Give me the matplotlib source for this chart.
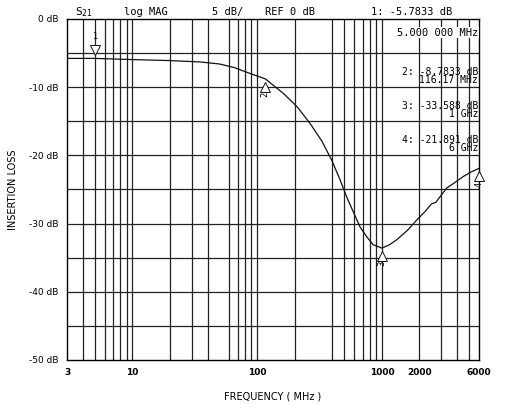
import numpy as np
import matplotlib
matplotlib.use("Agg")
import matplotlib.pyplot as plt

plt.rcParams.update({"font.family": "DejaVu Sans", "font.size": 6.5})

# trace
freq_mhz = [3, 5, 10, 20, 35, 50, 65, 88, 116.17, 162, 210, 265, 330, 396, 460, 522,
            600, 668, 760, 851, 1000, 1150, 1310, 1600, 1897, 2200, 2500, 2700,
            3300, 3900, 4490, 5230, 6000]
s21_db = [-5.78, -5.78, -5.95, -6.1, -6.3, -6.6, -7.1, -8.0, -8.78, -10.9, -12.9,
          -15.3, -17.9, -20.7, -23.5, -26.1, -28.6, -30.5, -32.0, -33.1, -33.6,
          -33.1, -32.4, -31.0, -29.5, -28.3, -27.1, -26.9, -24.8, -23.9, -23.1,
          -22.4, -21.9]

grid_v = [4, 5, 6, 7, 8, 9, 10, 20, 30, 40, 60, 70, 80, 90, 100,
          200, 400, 500, 600, 700, 800, 900, 1000, 2000, 3000, 4000, 5000]
xticks = [3, 10, 100, 1000, 2000, 6000]
yticks = [0, -10, -20, -30, -40, -50]

markers = [(1, 5.0, -5.7833), (2, 116.17, -8.7833), (3, 1000, -33.588), (4, 6000, -21.891)]
readouts = ["2: -8.7833 dB\n116.17 MHz", "3: -33.588 dB\n1 GHz", "4: -21.891 dB\n6 GHz"]

fig = plt.figure(figsize=(5.05, 4.04), dpi=100)
ax = fig.add_axes([0.133, 0.109, 0.8155, 0.844])
ax.set_xscale("log")
ax.set_xlim(3, 6000); ax.set_ylim(-50, 0)

for g in grid_v:
    ax.axvline(g, color="#222", lw=0.9, zorder=1)
for h in range(-45, 0, 5):
    ax.axhline(h, color="#222", lw=0.9, zorder=1)
ax.plot(freq_mhz, s21_db, color="#111", lw=0.9, zorder=3)

for n, f, v in markers:
    if n == 1:
        ax.plot(f, v + 1.3, marker="v", ms=7, mfc="white", mec="#111", mew=0.7, zorder=4)
        ax.text(f, v + 2.6, "1", ha="center", va="bottom", fontsize=6)
    else:
        ax.plot(f, v - 1.2, marker="^", ms=7, mfc="white", mec="#111", mew=0.7, zorder=4, clip_on=False)
        ax.text(f, v - 2.3, str(n), ha="center", va="center", fontsize=6, rotation=90)

ax.set_xticks(xticks); ax.set_xticklabels([str(t) for t in xticks], fontweight="bold")
ax.minorticks_off()
ax.set_yticks(yticks); ax.set_yticklabels([f"{t} dB" for t in yticks])
ax.tick_params(length=0, pad=6)
ax.set_xlabel("FREQUENCY ( MHz )", fontsize=7, labelpad=10)
ax.set_ylabel("INSERTION LOSS", fontsize=7, labelpad=8)
for s in ax.spines.values():
    s.set_linewidth(1.0)

mono = "DejaVu Sans Mono"
fig.text(0.148, 0.963, "S$_{21}$", fontsize=8, family=mono)
fig.text(0.245, 0.963, "log MAG", fontsize=7.5, family=mono)
fig.text(0.42, 0.963, "5 dB/", fontsize=7.5, family=mono)
fig.text(0.525, 0.963, "REF 0 dB", fontsize=7.5, family=mono)
fig.text(0.735, 0.963, "1: -5.7833 dB", fontsize=7.5, family=mono)
ax.text(0.998, 0.975, "5.000 000 MHz", transform=ax.transAxes, ha="right", va="top",
        fontsize=7.5, family=mono, bbox=dict(fc="white", ec="none", pad=0.5))
for i, t in enumerate(readouts):
    ax.text(0.998, 0.86 - i * 0.1, t, transform=ax.transAxes, ha="right", va="top",
            fontsize=7, family=mono, linespacing=0.8, multialignment="right")

fig.savefig("out.png", dpi=100)
